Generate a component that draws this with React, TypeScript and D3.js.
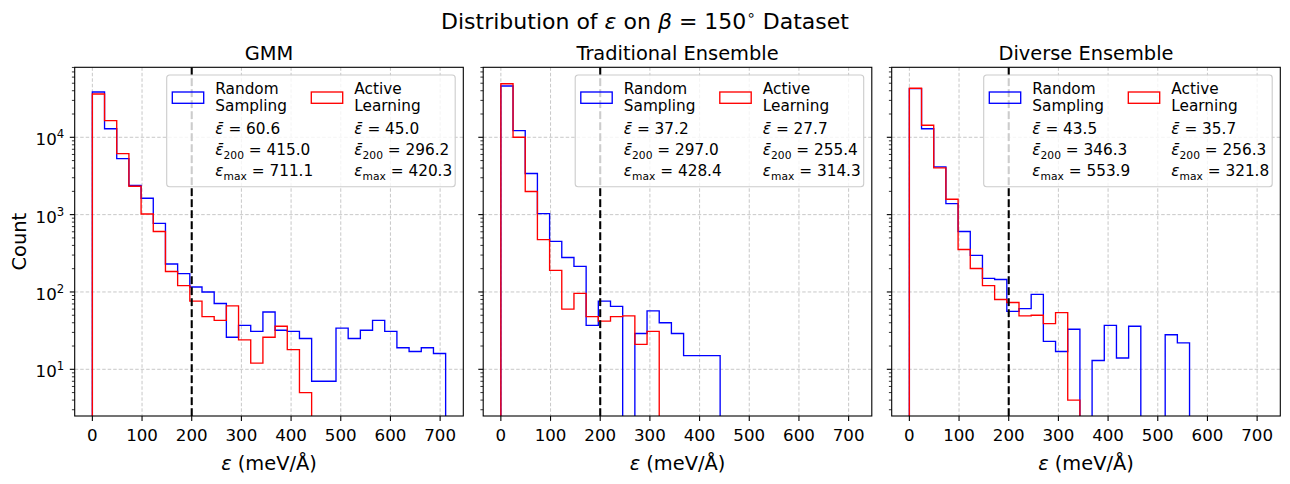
import * as d3 from 'd3'

// shared bins: linspace(0, 711.1, 30)
const EDGE_MAX = 711.1
const N_BINS = 29
const binEdges = d3.range(N_BINS + 1).map((i) => (i * EDGE_MAX) / N_BINS)

const panelTitles = ['GMM', 'Traditional Ensemble', 'Diverse Ensemble']
const seriesNames = [
  ['Random', 'Sampling'],
  ['Active', 'Learning'],
]
const seriesColors = ['#0000ff', '#ff0000']

const gmmRandom = [38500, 12900, 5300, 2380, 1630, 770, 230, 173, 116, 100, 71, 26, 37, 31, 55, 32, 31, 25, 7, 7, 34, 25, 32, 43, 31, 19, 17, 19, 16]
const gmmActive = [36300, 16400, 6150, 2330, 1020, 606, 184, 121, 76, 48, 43, 66, 24, 12, 26, 36, 18, 5, 0, 0, 0, 0, 0, 0, 0, 0, 0, 0, 0]
const tradRandom = [46000, 12200, 3400, 1030, 450, 279, 214, 37, 76, 65, 0, 29, 57, 40, 29, 15, 15, 15, 0, 0, 0, 0, 0, 0, 0, 0, 0, 0, 0]
const tradActive = [49300, 10000, 1990, 476, 190, 60, 96, 48, 42, 48, 49, 21, 31, 0, 0, 0, 0, 0, 0, 0, 0, 0, 0, 0, 0, 0, 0, 0, 0]
const divRandom = [42500, 12900, 4140, 1390, 606, 297, 150, 145, 56, 61, 93, 23, 17, 33, 0, 13, 37, 14, 36, 0, 0, 28, 22, 0, 0, 0, 0, 0, 0]
const divActive = [43000, 14300, 4020, 1580, 354, 201, 121, 80, 73, 49, 50, 39, 54, 4, 0, 0, 0, 0, 0, 0, 0, 0, 0, 0, 0, 0, 0, 0, 0]

const panelCounts = [
  [gmmRandom, gmmActive],
  [tradRandom, tradActive],
  [divRandom, divActive],
]

// [mean, mean above 200, max]
const randomStats = [
  [60.6, 415.0, 711.1],
  [37.2, 297.0, 428.4],
  [43.5, 346.3, 553.9],
]
const activeStats = [
  [45.0, 296.2, 420.3],
  [27.7, 255.4, 314.3],
  [35.7, 256.3, 321.8],
]

const THRESHOLD = 200
const xTicks = [0, 100, 200, 300, 400, 500, 600, 700]
const yMajor = [10, 100, 1000, 10000]

const W = 1290
const H = 484
const TOP = 67.3
const BOTTOM = 416
const PANEL_LEFTS = [74.7, 483.2, 891.7]
const PANEL_W = 388.6
const FONT = '"DejaVu Sans", sans-serif'
const LABEL_SIZE = 19.4

const x = d3.scaleLinear().domain([-35.555, 746.655]).range([0, PANEL_W])
const y = d3.scaleLog().domain([2.49, 80350]).range([BOTTOM - TOP, 0])
const innerH = BOTTOM - TOP
const yMinor = y.ticks().filter((v) => !yMajor.includes(v))

function stepPath(counts: number[]) {
  const low = innerH + 12
  const cy = (c: number) => (c > 0 ? y(c) : low)
  const pts: [number, number][] = [[x(binEdges[0]), low]]
  counts.forEach((c, i) => {
    pts.push([x(binEdges[i]), cy(c)])
    pts.push([x(binEdges[i + 1]), cy(c)])
  })
  pts.push([x(binEdges[N_BINS]), low])
  return d3.line()(pts) ?? ''
}

function StatLines({ stats, tx }: { stats: number[]; tx: number }) {
  const [mean, mean200, max] = stats
  return (
    <g fontSize={15.3}>
      <text x={tx} y={59}>
        <tspan fontStyle="italic">ε̄</tspan>
        <tspan> = {mean.toFixed(1)}</tspan>
      </text>
      <text x={tx} y={80}>
        <tspan fontStyle="italic">ε̄</tspan>
        <tspan fontSize={10.7} dy={3.5}>200</tspan>
        <tspan dy={-3.5}> = {mean200.toFixed(1)}</tspan>
      </text>
      <text x={tx} y={101}>
        <tspan fontStyle="italic">ε</tspan>
        <tspan fontSize={10.7} dy={3.5}>max</tspan>
        <tspan dy={-3.5}> = {max.toFixed(1)}</tspan>
      </text>
    </g>
  )
}

function Panel({ idx }: { idx: number }) {
  const left = PANEL_LEFTS[idx]
  const clipId = `clip-${idx}`
  const legW = 288.5
  const legH = 111.7
  const legX = PANEL_W - 8.1 - legW
  const legY = 7.7
  const stats = [randomStats[idx], activeStats[idx]]
  const colOffsets = [5.6, 144.6]
  return (
    <g transform={`translate(${left},${TOP})`}>
      <defs>
        <clipPath id={clipId}>
          <rect x={0} y={0} width={PANEL_W} height={innerH} />
        </clipPath>
      </defs>
      {/* grid */}
      <g stroke="#b0b0b0" strokeWidth={0.7} strokeDasharray="3.5 2">
        {xTicks.map((t) => (
          <line key={`gx${t}`} x1={x(t)} x2={x(t)} y1={0} y2={innerH} />
        ))}
        {yMajor.map((t) => (
          <line key={`gy${t}`} x1={0} x2={PANEL_W} y1={y(t)} y2={y(t)} />
        ))}
      </g>
      {/* histograms */}
      <g clipPath={`url(#${clipId})`} fill="none" strokeWidth={1.35}>
        {panelCounts[idx].map((counts, s) => (
          <path key={s} d={stepPath(counts)} stroke={seriesColors[s]} strokeLinejoin="miter" />
        ))}
        <line
          x1={x(THRESHOLD)}
          x2={x(THRESHOLD)}
          y1={innerH}
          y2={0}
          stroke="#000"
          strokeWidth={2.08}
          strokeDasharray="7.7 3.3"
        />
      </g>
      {/* spines */}
      <rect x={0} y={0} width={PANEL_W} height={innerH} fill="none" stroke="#000" strokeWidth={1.1} />
      {/* ticks */}
      <g stroke="#000" strokeWidth={1.1}>
        {xTicks.map((t) => (
          <line key={`tx${t}`} x1={x(t)} x2={x(t)} y1={innerH} y2={innerH + 4.9} />
        ))}
        {yMajor.map((t) => (
          <line key={`ty${t}`} x1={0} x2={-4.9} y1={y(t)} y2={y(t)} />
        ))}
      </g>
      <g stroke="#000" strokeWidth={0.8}>
        {yMinor.map((t) => (
          <line key={`tm${t}`} x1={0} x2={-2.8} y1={y(t)} y2={y(t)} />
        ))}
      </g>
      <g fontSize={16.67} textAnchor="middle" fill="#000">
        {xTicks.map((t) => (
          <text key={`lx${t}`} x={x(t)} y={innerH + 24.7}>
            {t}
          </text>
        ))}
      </g>
      {idx === 0 && (
        <g fontSize={16.67} textAnchor="end" fill="#000">
          {yMajor.map((t) => (
            <text key={`ly${t}`} x={-10.5} y={y(t) + 8}>
              10
              <tspan fontSize={11.7} dy={-7}>
                {Math.round(Math.log10(t))}
              </tspan>
            </text>
          ))}
        </g>
      )}
      {/* legend */}
      <g transform={`translate(${legX},${legY})`}>
        <rect
          x={0}
          y={0}
          width={legW}
          height={legH}
          rx={3}
          fill="#fff"
          fillOpacity={0.8}
          stroke="#cccccc"
          strokeWidth={1.1}
        />
        {seriesNames.map((name, s) => {
          const hx = colOffsets[s]
          const tx = hx + 43
          return (
            <g key={s}>
              <rect x={hx} y={17} width={31.4} height={11.3} fill="none" stroke={seriesColors[s]} strokeWidth={1.35} />
              <text x={tx} y={19.3} fontSize={15.3}>
                {name[0]}
              </text>
              <text x={tx} y={35.7} fontSize={15.3}>
                {name[1]}
              </text>
              <StatLines stats={stats[s]} tx={tx} />
            </g>
          )
        })}
      </g>
      {/* titles */}
      <text x={PANEL_W / 2} y={60 - TOP} textAnchor="middle" fontSize={LABEL_SIZE}>
        {panelTitles[idx]}
      </text>
      <text x={PANEL_W / 2} y={470 - TOP} textAnchor="middle" fontSize={LABEL_SIZE}>
        <tspan fontStyle="italic">ε</tspan> (meV/Å)
      </text>
    </g>
  )
}

export default function App() {
  return (
    <div style={{ position: 'fixed', left: 0, top: 0 }}>
      <svg width={W} height={H} viewBox={`0 0 ${W} ${H}`} fontFamily={FONT} style={{ display: 'block', background: '#fff' }}>
        <rect width={W} height={H} fill="#fff" />
        <text x={645} y={28.5} textAnchor="middle" fontSize={22}>
          Distribution of <tspan fontStyle="italic">ε</tspan> on <tspan fontStyle="italic">β</tspan> = 150
          <tspan fontSize={15} dy={-9}>∘</tspan>
          <tspan dy={9}> Dataset</tspan>
        </text>
        <text transform={`translate(25.5,${(TOP + BOTTOM) / 2}) rotate(-90)`} textAnchor="middle" fontSize={LABEL_SIZE}>
          Count
        </text>
        {panelTitles.map((_, i) => (
          <Panel key={i} idx={i} />
        ))}
      </svg>
    </div>
  )
}
